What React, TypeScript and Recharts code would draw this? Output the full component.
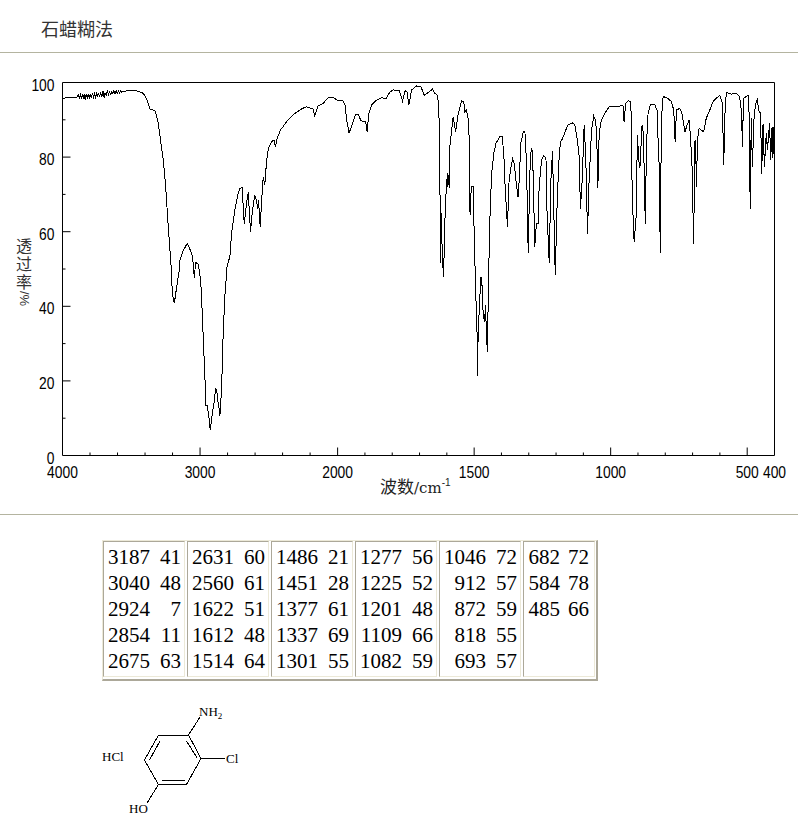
import { LineChart, Line, XAxis, YAxis, ReferenceLine } from 'recharts';

// [wavenumber cm-1, transmittance %], split by region
const OH_REGION = [
  [4000, 95.8], [3950, 95.9], [3915, 96.0], [3895, 96.1], [3885, 96.6], [3878, 95.9], [3870, 96.7], [3862, 95.5],
  [3855, 97.0], [3848, 95.7], [3842, 96.9], [3835, 95.2], [3828, 96.8], [3820, 95.9], [3812, 97.0], [3805, 95.6],
  [3798, 96.9], [3790, 95.8], [3782, 97.1], [3775, 96.1], [3768, 97.0], [3760, 96.0], [3752, 97.1], [3745, 96.4],
  [3738, 96.9], [3730, 96.3], [3722, 97.2], [3714, 96.2], [3706, 97.7], [3698, 96.0], [3690, 97.2], [3682, 96.6],
  [3674, 97.6], [3666, 96.8], [3658, 97.5], [3650, 96.8], [3642, 97.6], [3634, 97.0], [3626, 97.8], [3618, 97.0],
  [3610, 97.8], [3602, 97.0], [3594, 97.7], [3586, 97.2], [3578, 97.8], [3570, 97.3], [3557, 97.7], [3461, 97.8],
  [3412, 97.1], [3388, 95.5], [3364, 92.9], [3328, 92.4], [3308, 90.0], [3291, 85.5], [3267, 79.2], [3250, 72.0],
  [3231, 61.3], [3207, 48.8], [3202, 43.4], [3187, 40.8], [3170, 45.2], [3151, 49.7], [3146, 52.4], [3127, 54.6],
  [3093, 56.9], [3074, 55.3], [3054, 53.3], [3042, 47.7], [3032, 51.8],
];
const CH_REGION = [
  [3013, 51.3], [2996, 47.0], [2989, 42.5], [2982, 36.3], [2972, 27.3], [2962, 18.4], [2957, 13.5], [2948, 13.5],
  [2936, 10.4], [2926, 6.8], [2911, 11.3], [2899, 13.9], [2887, 18.0], [2878, 17.1], [2870, 14.4], [2863, 13.0],
  [2856, 10.6], [2849, 14.4], [2839, 22.9], [2832, 32.7], [2820, 42.5], [2803, 51.0], [2783, 53.3], [2771, 59.6],
  [2747, 65.8], [2723, 70.3], [2711, 71.6], [2694, 71.9], [2679, 62.2], [2662, 67.6], [2650, 70.5], [2633, 60.0],
  [2619, 65.8], [2602, 69.8], [2590, 68.5], [2582, 66.2], [2575, 68.5], [2563, 61.3], [2549, 70.3], [2541, 74.7],
  [2529, 72.5], [2524, 75.6], [2510, 81.0], [2498, 82.8],
];
const OVERTONE_REGION = [
  [2493, 83.2], [2473, 84.4], [2461, 84.4], [2452, 82.6], [2440, 85.0], [2415, 87.3], [2396, 88.2], [2360, 90.0],
  [2311, 91.7], [2263, 92.9], [2227, 93.5], [2178, 92.9], [2166, 91.0], [2142, 93.7], [2106, 94.4], [2069, 95.9],
  [2033, 96.0], [2004, 95.3], [1981, 95.1], [1973, 94.0], [1967, 90.0], [1958, 86.5], [1949, 88.1], [1934, 91.5],
  [1924, 91.3], [1914, 89.7], [1897, 89.5], [1892, 86.8], [1886, 91.7], [1875, 94.0], [1857, 95.3], [1839, 95.9],
  [1823, 95.7], [1808, 97.5], [1796, 98.0], [1774, 97.8], [1762, 95.0], [1753, 97.8], [1746, 97.5], [1739, 94.0],
  [1729, 98.0], [1711, 99.1], [1695, 98.9], [1683, 96.6], [1668, 97.3], [1653, 98.2], [1644, 97.1], [1634, 96.6],
];
const DOUBLE_BOND_REGION = [
  [1629, 92.6], [1625, 69.8], [1623, 51.5], [1620, 64.9], [1617, 54.2], [1612, 47.9], [1607, 63.1], [1603, 70.3],
  [1598, 75.6], [1596, 72.0], [1594, 75.2], [1591, 71.6], [1589, 82.8], [1583, 86.8], [1577, 90.8], [1568, 86.8],
  [1558, 91.7], [1546, 95.1], [1538, 94.9], [1534, 92.2], [1528, 92.6], [1522, 90.4], [1518, 85.0], [1516, 65.8],
  [1513, 64.4], [1511, 72.0], [1503, 72.0], [1500, 59.5], [1494, 43.4], [1488, 30.0], [1487, 21.3], [1486, 30.0],
  [1481, 39.9], [1475, 47.9], [1472, 47.0], [1467, 38.1], [1462, 35.8], [1458, 40.3], [1455, 31.8], [1451, 27.8],
  [1448, 45.2], [1442, 64.0], [1436, 75.6], [1428, 81.0], [1420, 83.7], [1406, 85.5], [1397, 85.6], [1391, 80.1],
  [1386, 71.2], [1378, 61.3],
];
const FINGERPRINT_HIGH = [
  [1372, 73.8], [1366, 77.0], [1359, 79.6], [1353, 78.3], [1347, 73.8], [1339, 69.2], [1335, 73.8], [1329, 83.7],
  [1320, 86.8], [1314, 86.8], [1308, 78.3], [1305, 64.9], [1302, 54.3], [1296, 75.6], [1291, 82.3], [1286, 81.4],
  [1281, 65.8], [1278, 56.0], [1272, 62.2], [1266, 62.2], [1262, 72.0], [1253, 79.2], [1245, 80.3], [1237, 79.9],
  [1233, 64.9], [1225, 51.7], [1219, 73.8], [1213, 81.7], [1208, 64.9], [1203, 48.4], [1196, 67.6], [1190, 78.3],
  [1184, 84.1], [1176, 85.0], [1165, 87.2], [1156, 88.6], [1140, 89.2], [1131, 88.6], [1123, 85.0], [1115, 80.1],
  [1111, 66.0], [1104, 74.3], [1097, 88.6], [1092, 81.0], [1089, 73.8], [1085, 59.4], [1079, 73.8], [1070, 87.2],
  [1062, 91.0], [1055, 89.9], [1051, 85.5], [1047, 71.6], [1042, 86.4], [1034, 89.9], [1022, 91.7], [1003, 93.7],
];
const FINGERPRINT_LOW = [
  [985, 93.5], [973, 93.5], [955, 94.0], [951, 89.5], [945, 94.4], [936, 95.1], [926, 94.9], [922, 74.3],
  [918, 64.0], [914, 57.3], [907, 64.0], [902, 85.9], [897, 79.2], [893, 77.0], [885, 88.6], [880, 86.4],
  [875, 67.6], [873, 62.0], [869, 83.2], [863, 91.7], [855, 94.0], [839, 94.1], [830, 92.6], [826, 83.7],
  [820, 73.8], [819, 54.3], [815, 82.8], [811, 95.3], [806, 96.2], [790, 95.7], [778, 94.9], [769, 92.6],
  [764, 84.1], [759, 92.6], [747, 93.1], [739, 91.7], [728, 86.8], [720, 88.6], [713, 89.9], [708, 85.9],
  [702, 77.4], [696, 56.7], [692, 84.1], [689, 84.6], [686, 72.0], [682, 84.6], [676, 87.7], [668, 87.2],
  [659, 86.8], [650, 90.4], [637, 92.6], [625, 94.9], [601, 96.6], [591, 94.4], [586, 77.9], [580, 95.3],
  [574, 97.3], [558, 96.9], [540, 97.1], [528, 96.2], [520, 91.7], [518, 82.8], [513, 95.7], [497, 96.6],
  [493, 91.7], [489, 66.2], [485, 90.4], [481, 77.4], [475, 90.4], [469, 94.4], [463, 95.3], [458, 92.6],
  [451, 91.7], [447, 75.6], [442, 89.0], [437, 77.4], [430, 86.4], [426, 81.9], [418, 89.0], [414, 79.2],
  [409, 88.1], [406, 79.7], [402, 88.1],
];

const spectrum = [
  ...OH_REGION,
  ...CH_REGION,
  ...OVERTONE_REGION,
  ...DOUBLE_BOND_REGION,
  ...FINGERPRINT_HIGH,
  ...FINGERPRINT_LOW,
].map(([wavenumber, transmittance]) => ({ wavenumber, transmittance }));

const X_TICKS = [
  4000, 3800, 3600, 3400, 3200, 3000, 2800, 2600, 2400, 2200, 2000, 1900, 1800, 1700, 1600, 1500, 1400, 1300, 1200,
  1100, 1000, 900, 800, 700, 600, 500, 400,
];
const X_LABELS = [4000, 3000, 2000, 1500, 1000, 500, 400];
const X_MAJOR = [3000, 2000, 1500, 1000, 500];
const Y_TICKS = [0, 10, 20, 30, 40, 50, 60, 70, 80, 90, 100];
const Y_LABELS = [0, 20, 40, 60, 80, 100];

const PEAK_COLUMNS = [
  [['3187', '41'], ['3040', '48'], ['2924', '7'], ['2854', '11'], ['2675', '63']],
  [['2631', '60'], ['2560', '61'], ['1622', '51'], ['1612', '48'], ['1514', '64']],
  [['1486', '21'], ['1451', '28'], ['1377', '61'], ['1337', '69'], ['1301', '55']],
  [['1277', '56'], ['1225', '52'], ['1201', '48'], ['1109', '66'], ['1082', '59']],
  [['1046', '72'], ['912', '57'], ['872', '59'], ['818', '55'], ['693', '57']],
  [['682', '72'], ['584', '78'], ['485', '66']],
];

const TICK_FONT = '"Liberation Sans", sans-serif';
const CJK_FONT = '"Noto Sans CJK SC", sans-serif';
const RULE_COLOR = '#b4b4a0';
const BORDER_LIGHT = '#ece9d8';
const BORDER_DARK = '#aca899';
const DIGIT_WIDTH = 7.7;

// the instrument doubles the scale below 2000 cm-1, so the axis is piecewise
function spectrumScale(range = [0, 1]) {
  const scale: any = (wn: number) => {
    const t = wn >= 2000 ? ((4000 - wn) / 2000) * 0.3864 : 0.3864 + ((2000 - wn) / 1600) * 0.6136;
    return range[0] + (range[1] - range[0]) * t;
  };
  scale.domain = (d?: number[]) => (d ? scale : [400, 4000]);
  scale.range = (r?: number[]) => {
    if (!r) return range;
    range = r;
    return scale;
  };
  scale.copy = () => spectrumScale(range);
  return scale;
}

// labels are squeezed to the narrow digits of the instrument software
function TickText({ x, y, anchor, value }: any) {
  const s = String(value);
  return (
    <text
      x={x}
      y={y}
      textAnchor={anchor}
      fontSize={17}
      fontFamily={TICK_FONT}
      fill="#000"
      textLength={s.length * DIGIT_WIDTH}
      lengthAdjust="spacingAndGlyphs"
    >
      {s}
    </text>
  );
}

function XTick({ x, y, payload }: any) {
  const v = payload.value;
  const len = X_MAJOR.includes(v) ? 8 : 3;
  return (
    <g>
      {v !== 4000 && v !== 400 && <line x1={x} x2={x} y1={y} y2={y - len} stroke="#000" />}
      {X_LABELS.includes(v) && <TickText x={x} y={y + 22} anchor="middle" value={v} />}
    </g>
  );
}

function YTick({ x, y, payload }: any) {
  const v = payload.value;
  const major = Y_LABELS.includes(v);
  return (
    <g>
      {v !== 0 && v !== 100 && <line x1={x} x2={x + (major ? 8 : 3)} y1={y} y2={y} stroke="#000" />}
      {major && <TickText x={x - 8} y={y + 8} anchor="end" value={v} />}
    </g>
  );
}

function PeakTable() {
  return (
    <div
      style={{
        position: 'absolute',
        left: 102,
        top: 540,
        width: 493,
        height: 137,
        display: 'flex',
        gap: 2,
        padding: '0 0 1px 0',
        borderTop: `1px solid ${BORDER_LIGHT}`,
        borderLeft: `1px solid ${BORDER_LIGHT}`,
        borderRight: `2px solid ${BORDER_DARK}`,
        borderBottom: `2px solid ${BORDER_DARK}`,
        fontFamily: '"Liberation Serif", serif',
        fontSize: 21,
        lineHeight: '26px',
        color: '#000',
      }}
    >
      {PEAK_COLUMNS.map((rows, i) => (
        <div
          key={i}
          style={{
            width: i === 5 ? 72 : 82,
            height: 136,
            boxSizing: 'border-box',
            padding: i === 5 ? '2px 5px 0 4px' : '2px 3px 0 4px',
            borderTop: `1px solid ${BORDER_DARK}`,
            borderLeft: `1px solid ${BORDER_DARK}`,
            borderRight: `1px solid ${BORDER_LIGHT}`,
            borderBottom: `1px solid ${BORDER_LIGHT}`,
          }}
        >
          {rows.map(([wn, t]) => (
            <div key={wn} style={{ display: 'flex', justifyContent: 'space-between' }}>
              <span style={{ width: i === 5 ? 32 : 42, textAlign: 'right' }}>{wn}</span>
              <span>{t}</span>
            </div>
          ))}
        </div>
      ))}
    </div>
  );
}

function AxisTitles() {
  return (
    <>
      <div
        style={{
          position: 'absolute',
          left: 16,
          top: 236,
          width: 16,
          fontFamily: CJK_FONT,
          fontSize: 16,
          lineHeight: '18px',
          color: '#333',
        }}
      >
        透<br />过<br />率
      </div>
      <div
        style={{
          position: 'absolute',
          left: 12,
          top: 291,
          width: 24,
          height: 15,
          lineHeight: '15px',
          textAlign: 'center',
          fontFamily: TICK_FONT,
          fontSize: 13,
          color: '#333',
          transform: 'rotate(90deg)',
        }}
      >
        /%
      </div>
      <div
        style={{
          position: 'absolute',
          left: 380,
          top: 475,
          fontFamily: CJK_FONT,
          fontSize: 17,
          lineHeight: '22px',
          color: '#222',
          whiteSpace: 'nowrap',
        }}
      >
        波数<span style={{ fontFamily: '"DejaVu Serif", serif', fontSize: 15 }}>/cm</span>
        <sup style={{ fontFamily: TICK_FONT, fontSize: 10, lineHeight: 0 }}>-1</sup>
      </div>
    </>
  );
}

function Structure() {
  const bonds = [
    [158.5, 735, 188.5, 735],
    [188.5, 735, 201, 758.5],
    [201, 758.5, 186.5, 784.5],
    [186.5, 784.5, 158.5, 784.5],
    [158.5, 784.5, 144.5, 760],
    [144.5, 760, 158.5, 735],
    [160, 741, 149.5, 760],
    [186.5, 741, 197.5, 758.5],
    [161.5, 780, 184.5, 780],
    [188.5, 735, 200, 717],
    [201, 758.5, 225, 758.5],
    [158.5, 784.5, 147, 803],
  ];
  const font = { fontFamily: '"Liberation Serif", serif', fontSize: 13, fill: '#000' };
  return (
    <svg width={798} height={836} style={{ position: 'absolute', left: 0, top: 0, pointerEvents: 'none' }}>
      {bonds.map(([x1, y1, x2, y2], i) => (
        <line key={i} x1={x1} y1={y1} x2={x2} y2={y2} stroke="#000" shapeRendering="crispEdges" />
      ))}
      <text x={199} y={716} {...font}>
        NH<tspan fontSize={9} dy={3}>2</tspan>
      </text>
      <text x={226} y={763} {...font}>Cl</text>
      <text x={129} y={813} {...font}>HO</text>
      <text x={102} y={761} {...font}>HCl</text>
    </svg>
  );
}

export default function App() {
  return (
    <div style={{ position: 'absolute', left: 0, top: 0, width: 798, height: 836, overflow: 'hidden', background: '#fff' }}>
      <div style={{ position: 'absolute', left: 41, top: 16, fontFamily: CJK_FONT, fontSize: 18, lineHeight: '24px', color: '#333' }}>
        石蜡糊法
      </div>
      <div style={{ position: 'absolute', left: 0, top: 52, width: 798, height: 1, background: RULE_COLOR }} />
      <div style={{ position: 'absolute', left: 0, top: 514, width: 798, height: 1, background: RULE_COLOR }} />

      <div style={{ position: 'absolute', left: 0, top: 0 }}>
        <LineChart
          width={798}
          height={500}
          data={spectrum}
          margin={{ top: 82.5, right: 23.5, bottom: 14.5, left: 0 }}
        >
          <XAxis
            dataKey="wavenumber"
            type="number"
            domain={[400, 4000]}
            scale={spectrumScale() as any}
            ticks={X_TICKS}
            interval={0}
            tick={<XTick />}
            tickLine={false}
            tickSize={0}
            tickMargin={0}
            height={30}
            stroke="#000"
          />
          <YAxis
            type="number"
            domain={[0, 100]}
            ticks={Y_TICKS}
            interval={0}
            tick={<YTick />}
            tickLine={false}
            tickSize={0}
            tickMargin={0}
            width={62.5}
            stroke="#000"
          />
          <ReferenceLine y={100} stroke="#000" />
          <ReferenceLine x={400} stroke="#000" />
          <Line
            dataKey="transmittance"
            type="linear"
            stroke="#000"
            strokeWidth={1}
            dot={false}
            shapeRendering="crispEdges"
            isAnimationActive={false}
          />
        </LineChart>
      </div>

      <AxisTitles />
      <PeakTable />
      <Structure />
    </div>
  );
}
